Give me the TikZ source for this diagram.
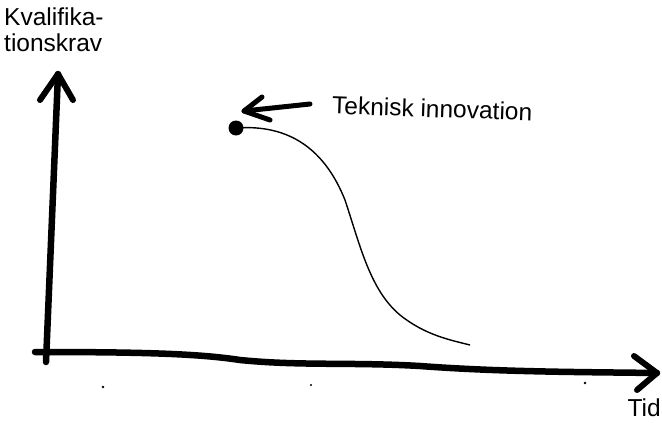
\documentclass[tikz,border=0pt]{standalone}
\usepackage{fontspec}
\setmainfont{Liberation Sans}
\begin{document}
\begin{tikzpicture}[x=1pt,y=-1pt,
  axis/.style={line width=6.5pt,line cap=round,line join=round},
  chev/.style={line width=6pt,line cap=round,line join=round},
  lbl/.style={inner sep=0pt,font=\fontsize{24.5}{26}\selectfont}]
\useasboundingbox (0,0) rectangle (662,423);
% labels
\node[lbl,anchor=north west,align=left] (ylab) at (4,8) {Kvalifika-\\tionskrav};
\node[lbl,anchor=west,rotate=-2] (tlab) at (332,105) {Teknisk innovation};
\node[lbl,anchor=north east] (xlab) at (661,399) {Tid};
% coordinates
\coordinate (o) at (46,362);
\coordinate (ytip) at (58,74);
\coordinate (xstart) at (35,352);
\coordinate (xtip) at (657,373);
\coordinate (dot) at (236,128);
\coordinate (cend) at (470,345);
\coordinate (atip) at (244,111);
\coordinate (astart) at (310,104);
% vertical axis
\draw[axis] (o) -- (ytip);
\draw[chev] (40,100) -- (ytip) -- (73,100);
% horizontal axis
\draw[axis] (xstart) .. controls (150,352) and (200,354) .. (240,360)
  .. controls (300,366) and (350,362) .. (420,366)
  .. controls (500,372) and (580,372) .. (xtip);
\draw[chev] (634,356) -- (xtip) -- (637,390);
% curve
\fill (dot) circle (7.5);
\draw[line width=1.4pt] (dot) .. controls (290,124) and (325,150) .. (345,200)
  .. controls (360,245) and (370,290) .. (400,315)
  .. controls (425,335) and (450,340) .. (cend);
% arrow to label
\draw[line width=5pt,line cap=round] (astart) -- (atip);
\draw[line width=5pt,line cap=round,line join=round] (262,97) -- (atip) -- (270,120);
% specks
\fill (103,387) circle (1.3);
\fill (311,385) circle (1.2);
\fill (585,383) circle (1.3);
\end{tikzpicture}
\end{document}
